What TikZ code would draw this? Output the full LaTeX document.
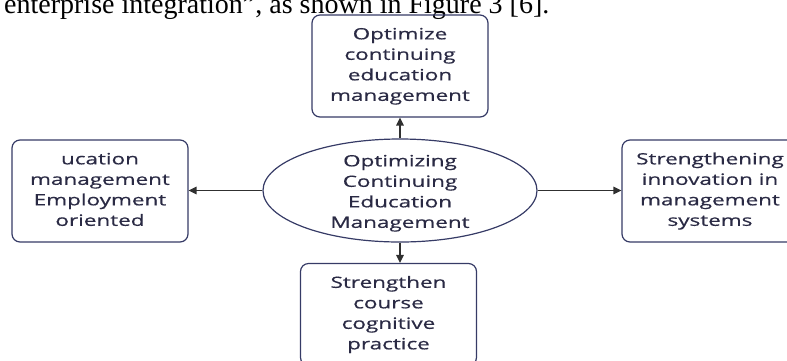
\documentclass[tikz,border=0pt]{standalone}
\usepackage{fontspec}
\usepackage{graphicx}
\setmainfont{Liberation Serif}
\newfontfamily\diagfont[FakeBold=0.5]{Open Sans}
\usetikzlibrary{arrows.meta,shapes.geometric}

\definecolor{boxline}{HTML}{363B66}
\definecolor{boxtext}{HTML}{2A2A44}
\definecolor{arrowgray}{HTML}{303030}

% horizontally widened, centred block of lines
\newcommand\widetext[1]{\scalebox{1.44}[1]{\begin{tabular}{@{}c@{}}#1\end{tabular}}}

\tikzset{
  labelfont/.style={text=boxtext, font=\diagfont\fontsize{15.6}{20.5}\selectfont},
  topic/.style={draw=boxline, line width=1.2pt, rounded corners=8pt,
    minimum width=176pt, minimum height=102pt, inner sep=0pt, labelfont},
  hub/.style={ellipse, draw=boxline, line width=1.2pt,
    minimum width=274pt, minimum height=103pt, inner sep=0pt},
  hubtext/.style={inner sep=0pt, labelfont},
  link/.style={draw=arrowgray, line width=1.3pt,
    -{Triangle[length=8pt,width=7.5pt]}}
}

\begin{document}
\begin{tikzpicture}[x=1pt,y=-1pt]
\useasboundingbox (0,0) rectangle (787,360);
\clip (0,0) rectangle (787,360);

% running text line above the figure
\node[anchor=base west, inner sep=0pt, font=\fontsize{28}{32}\selectfont]
  (caption) at (4,13) {enterprise integration”, as shown in Figure 3 [6].};

% central ellipse
\node[hub] (hub) at (400,190.5) {};
\node[hubtext] (hubtext) at (400,193)
  {\widetext{Optimizing\\Continuing\\Education\\Management}};

% surrounding boxes
\node[topic] (up) at (400,66)
  {\widetext{Optimize\\continuing\\education\\management}};
\node[topic] (left) at (100,191)
  {\widetext{ucation\\management\\Employment\\oriented}};
\node[topic] (right) at (710,191)
  {\widetext{Strengthening\\innovation in\\management\\systems}};
\node[topic] (down) at (388.5,314.5)
  {\widetext{Strengthen\\course\\cognitive\\practice}};

% connectors
\draw[link] (hub.north) -- (up.south);
\draw[link] (hub.south) -- (hub.south |- down.north);
\draw[link] (hub.west) -- (hub.west -| left.east);
\draw[link] (hub.east) -- (hub.east -| right.west);
\end{tikzpicture}
\end{document}
